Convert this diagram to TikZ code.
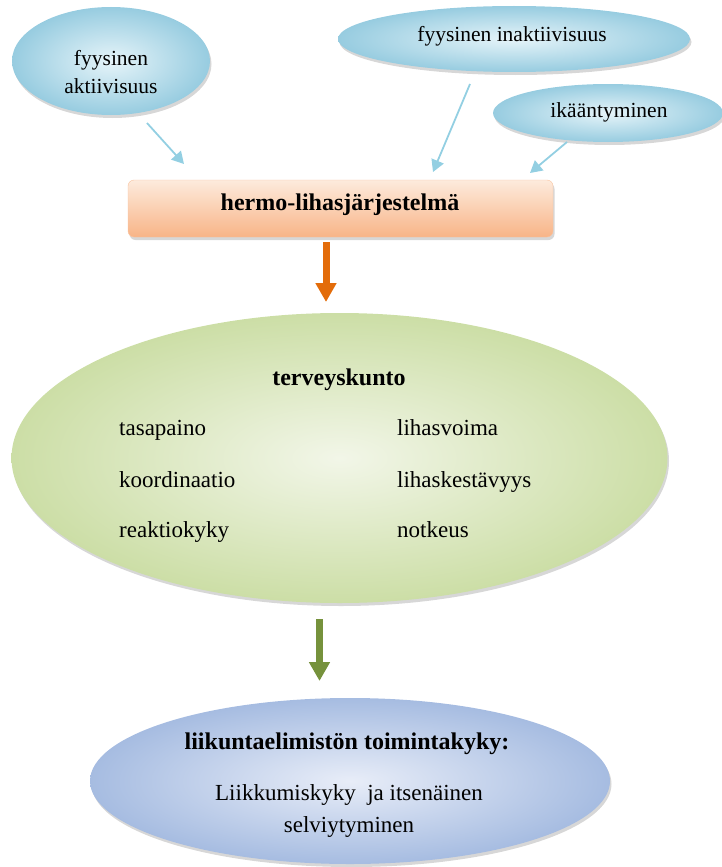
\documentclass[tikz,border=0pt]{standalone}
\usepackage{fontspec}
\setmainfont{Liberation Serif}
\usetikzlibrary{shapes.geometric,shadows,arrows.meta}
\definecolor{bubin}{HTML}{E6F4F9}
\definecolor{bubout}{HTML}{97CCE0}
\definecolor{barrow}{HTML}{93CFE2}
\definecolor{ortop}{HTML}{FDEBDD}
\definecolor{orbot}{HTML}{F8B487}
\definecolor{orarrow}{HTML}{E36C0A}
\definecolor{grin}{HTML}{F2F6E8}
\definecolor{grout}{HTML}{CCDEA6}
\definecolor{grarrow}{HTML}{76923C}
\definecolor{lvin}{HTML}{E8EDF8}
\definecolor{lvout}{HTML}{A6BCE1}
\tikzset{
  shad/.style={drop shadow={shadow xshift=1.5pt,shadow yshift=-3pt,opacity=0.35,fill=black!45}},
  bubble/.style={ellipse,inner sep=0pt,draw=none,shading=radial,inner color=bubin,outer color=bubout,shad},
  smalltxt/.style={font=\fontsize{21.5}{28}\selectfont,inner sep=0pt,align=center},
  regtxt/.style={font=\fontsize{23}{29}\selectfont,inner sep=0pt},
  boldtxt/.style={font=\fontsize{24}{29}\selectfont\bfseries,inner sep=0pt},
  thinarrow/.style={draw=barrow,line width=1.8pt,-{Triangle[length=12pt,width=13pt]}},
  fatarrow/.style={line width=7pt,-{Triangle[length=19pt,width=20pt]}},
}
\begin{document}
\begin{tikzpicture}[x=1pt,y=-1pt]
\useasboundingbox (0,0) rectangle (722,867);
% top bubbles
\node[bubble,minimum width=198pt,minimum height=108pt] (akt) at (111,61) {};
\node[smalltxt] (akttxt) at (111,72) {fyysinen\\aktiivisuus};
\node[bubble,minimum width=352pt,minimum height=66pt] (inakt) at (514,39) {};
\node[smalltxt] (inakttxt) at (512,36) {fyysinen inaktiivisuus};
\node[bubble,minimum width=230pt,minimum height=58pt] (ika) at (608,113) {};
\node[smalltxt] (ikatxt) at (609,112) {ikääntyminen};
% box
\node[rectangle,rounded corners=6pt,minimum width=425pt,minimum height=57pt,inner sep=0pt,
      top color=ortop,bottom color=orbot,draw=orbot!80,line width=0.4pt,shad] (hermo) at (340.5,208.5) {};
\node[boldtxt] (hermotxt) at (340,205) {hermo-lihasjärjestelmä};
% thin arrows
\coordinate (a1s) at (147,123);
\coordinate (a1e) at (184,164);
\coordinate (a2s) at (470,84);
\coordinate (a2e) at (433,172);
\coordinate (a3s) at (567,142);
\coordinate (a3e) at (530,173);
\draw[thinarrow] (a1s) -- (a1e);
\draw[thinarrow] (a2s) -- (a2e);
\draw[thinarrow] (a3s) -- (a3e);
% orange arrow
\coordinate (os) at (326,242);
\coordinate (oe) at (326,302);
\draw[fatarrow,draw=orarrow,color=orarrow] (os) -- (oe);
% green ellipse
\node[ellipse,inner sep=0pt,minimum width=656pt,minimum height=290pt,shading=radial,
      inner color=grin,outer color=grout,draw=none,shad] (terv) at (339.5,458) {};
\node[boldtxt,anchor=base] (tervtxt) at (339,385) {terveyskunto};
\node[regtxt,anchor=base west] (t1) at (119,435) {tasapaino};
\node[regtxt,anchor=base west] (t2) at (119,487) {koordinaatio};
\node[regtxt,anchor=base west] (t3) at (119,537) {reaktiokyky};
\node[regtxt,anchor=base west] (t4) at (397,435) {lihasvoima};
\node[regtxt,anchor=base west] (t5) at (397,487) {lihaskestävyys};
\node[regtxt,anchor=base west] (t6) at (397,537) {notkeus};
% green arrow
\coordinate (gs) at (319.5,619);
\coordinate (ge) at (319.5,681);
\draw[fatarrow,draw=grarrow,color=grarrow] (gs) -- (ge);
% lavender ellipse
\node[ellipse,inner sep=0pt,minimum width=520pt,minimum height=166pt,shading=radial,
      inner color=lvin,outer color=lvout,draw=none,shad] (liik) at (350,781) {};
\node[boldtxt,anchor=base] (liiktxt) at (347,749) {liikuntaelimistön toimintakyky:};
\node[regtxt,anchor=base] (liiktxt2) at (349,800) {Liikkumiskyky\ \ ja itsenäinen};
\node[regtxt,anchor=base] (liiktxt3) at (349,832) {selviytyminen};
\end{tikzpicture}
\end{document}
